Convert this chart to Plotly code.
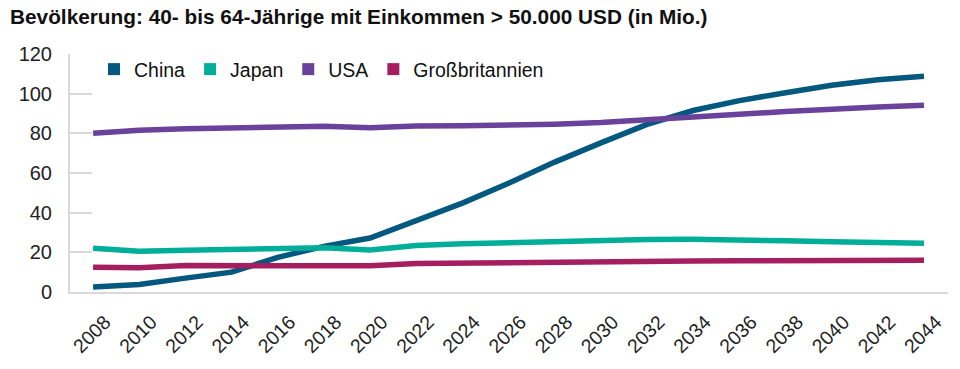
import plotly.graph_objects as go

years = [2008, 2010, 2012, 2014, 2016, 2018, 2020, 2022, 2024, 2026,
         2028, 2030, 2032, 2034, 2036, 2038, 2040, 2042, 2044]
china = [2.5, 3.8, 7.0, 10.0, 17.5, 23.0, 27.2, 36.2, 44.8, 54.8,
         65.5, 75.2, 84.5, 91.5, 96.5, 100.5, 104.2, 107.0, 108.8]
japan = [22.0, 20.6, 21.0, 21.6, 22.0, 22.3, 21.2, 23.5, 24.3, 25.0,
         25.7, 26.2, 26.5, 26.6, 26.4, 25.8, 25.3, 24.8, 24.6]
usa = [80.0, 81.6, 82.3, 82.6, 83.4, 83.6, 82.8, 83.7, 83.8, 84.1,
       84.6, 85.4, 86.6, 88.2, 89.6, 91.0, 92.3, 93.3, 94.1]
gb = [12.5, 12.2, 13.3, 13.3, 13.6, 13.8, 13.2, 14.4, 14.7, 14.9,
      15.1, 15.3, 15.4, 15.6, 15.7, 15.8, 15.9, 15.9, 16.0]

series_names = ["China", "Japan", "USA", "Großbritannien"]
series_values = [china, japan, usa, gb]
colors = ["#03587F", "#00AE99", "#6B429B", "#A51E5F"]
y_ticks = [0, 20, 40, 60, 80, 100, 120]
x_ticks = years

fig = go.Figure()
for name, vals, col in zip(series_names, series_values, colors):
    fig.add_trace(go.Scatter(x=years, y=vals, mode="lines", name=name,
                             line=dict(color=col, width=5.5), showlegend=False))
for name, col in zip(series_names, colors):
    fig.add_trace(go.Scatter(x=[None], y=[None], mode="markers", name=name,
                             marker=dict(symbol="square", size=12, color=col)))

fig.update_layout(
    width=960, height=369,
    margin=dict(l=70, r=12, t=54, b=77, autoexpand=False),
    paper_bgcolor="white", plot_bgcolor="white",
    font=dict(family="Liberation Sans, Arial, sans-serif", color="#222222"),
    title=dict(text="<b>Bevölkerung: 40- bis 64-Jährige mit Einkommen > 50.000 USD (in Mio.)</b>",
               x=10/960, xanchor="left", xref="container",
               y=1-17/369, yanchor="middle", yref="container",
               font=dict(size=20.8, color="#111111")),
    legend=dict(orientation="h", x=24/878, y=1.017, xanchor="left", yanchor="top",
                font=dict(size=19.5, color="#111111"), bgcolor="rgba(0,0,0,0)",
                itemwidth=30),
    showlegend=True,
)
fig.update_xaxes(range=[2007, 2045.04], tickvals=x_ticks, ticktext=[str(v) for v in x_ticks],
                 tickangle=-45, tickfont=dict(size=19.5, color="#222222"),
                 showline=True, linecolor="#D9D9D9", linewidth=2,
                 showgrid=False, zeroline=False, ticks="", ticklabelshift=12,
                 ticklabelstandoff=9, automargin=False)
fig.update_yaxes(range=[0, 120], tickvals=y_ticks,
                 tickfont=dict(size=20, color="#222222"),
                 showline=True, linecolor="#D9D9D9", linewidth=2,
                 showgrid=False, zeroline=False,
                 ticks="inside", ticklen=22, tickcolor="#D9D9D9", tickwidth=2,
                 ticklabelstandoff=12, automargin=False)

fig.write_html("out.html", config={"displayModeBar": False},
               post_script="document.body.style.margin='0';document.body.style.padding='0';")
